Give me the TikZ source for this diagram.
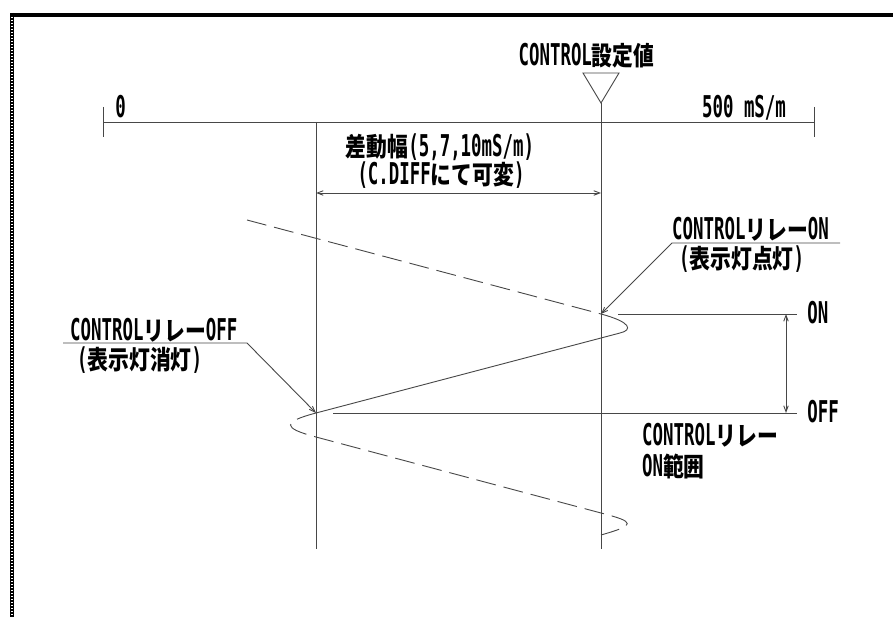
\documentclass[tikz,border=0pt]{standalone}
\usepackage{fontspec}
\usetikzlibrary{arrows.meta}
\newfontfamily\monofont[FakeStretch=0.58]{DejaVu Sans Mono}
\newfontfamily\jafont[FakeStretch=0.8]{Noto Sans CJK JP}
\newcommand{\ja}[1]{{\jafont\bfseries\fontsize{26}{26}\selectfont #1}}
\tikzset{
	lbl/.style={font=\monofont\bfseries\fontsize{30}{24}\selectfont, text=black, inner sep=0pt, text height=21pt, text depth=3pt},
	fine/.style={draw=black!72, line width=0.9pt},
	tip/.style={-{Straight Barb[length=6pt,width=4.5pt]}},
	tips/.style={{Straight Barb[length=6pt,width=4.5pt]}-{Straight Barb[length=6pt,width=4.5pt]}},
	swing/.style={dash pattern=on 20pt off 8pt},
}
\begin{document}
\begin{tikzpicture}[x=1pt, y=-1pt]
		\useasboundingbox (0,0) rectangle (893,617);

		\draw [line width=4.5pt] (10,15) -- (893,15);
		\draw [line width=4pt] (12,13) -- (12,617);
		\draw [line width=1.5pt, white, dash pattern=on 1pt off 2pt] (12,17) -- (12,617);

		\begin{scope}[fine]
			\draw (103,122) coordinate (zero) -- (814,122) coordinate (full);
			\draw (103,107) -- (103,137);
			\draw (814,107) -- (814,137);
			\draw (583,73) -- (619,73) -- (601,103) coordinate (apex) -- cycle;
			\draw (apex) -- (601,549) coordinate (setbot);
			\draw (316,122) coordinate (difftop) -- (316,549) coordinate (diffbot);
		\end{scope}

		\node [lbl, anchor=base] (zerolbl) at (120.5,118) {0};
		\node [lbl, anchor=base] (fulllbl) at (744,118) {500 mS/m};
		\node [lbl, anchor=base] (setval) at (586.5,66) {CONTROL\ja{設定値}};

		\draw [fine, tips] (316,193) coordinate (diffl) -- (601,193) coordinate (diffr);
		\node [lbl, anchor=base] (diffw) at (440,157) {\ja{差動幅}(5,7,10mS/m)};
		\node [lbl, anchor=base] (diffc) at (441,185) {(C.DIFF\ja{にて可変})};

		\coordinate (on) at (601,314);
		\coordinate (off) at (316,413);
		\draw [fine, swing] (247,220) coordinate (swingtop) -- (on);
		\draw [fine] (on) .. controls (631,322) and (633,330) .. (620,333) -- (off);
		\draw [fine, swing] (off) .. controls (282,422) and (282,428) .. (316,437) -- (601,513) .. controls (636,522) and (636,525) .. (601,535);

		\draw [fine] (618,314) -- (797,314) node [lbl, anchor=west, xshift=10pt] (onlbl) {ON};
		\draw [fine] (333,413) -- (797,413) node [lbl, anchor=west, xshift=10pt] (offlbl) {OFF};
		\draw [fine, tips] (786,314) -- (786,413);
		\node [lbl, anchor=base west] (range) at (642,445) {CONTROL\ja{リレー}};
		\node [lbl, anchor=base west] (rangeb) at (642,476) {ON\ja{範囲}};

		\draw [fine, tip] (840,243) -- (672,243) coordinate (onlead) -- (on);
		\node [lbl, anchor=base west] (onrelay) at (672,240) {CONTROL\ja{リレー}ON};
		\node [lbl, anchor=base west] (onlamp) at (679,269) {(\ja{表示灯点灯})};

		\draw [fine, tip] (63,343) -- (247,343) coordinate (offlead) -- (off);
		\node [lbl, anchor=base west] (offrelay) at (70,340) {CONTROL\ja{リレー}OFF};
		\node [lbl, anchor=base west] (offlamp) at (77,369) {(\ja{表示灯消灯})};

	\end{tikzpicture}
\end{document}
